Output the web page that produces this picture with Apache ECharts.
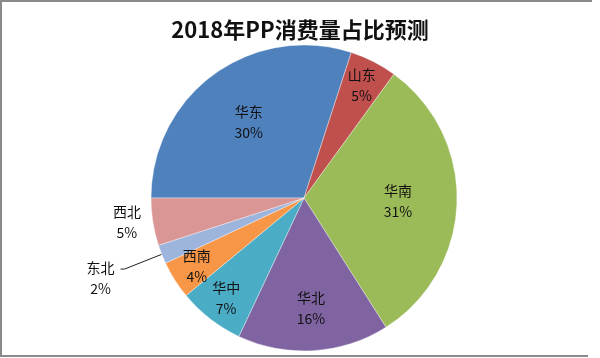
<!DOCTYPE html>
<html><head><meta charset="utf-8">
<script src="https://cdn.jsdelivr.net/npm/echarts@6/dist/echarts.min.js"></script>
<style>html,body{margin:0;padding:0;background:#fff}#c{width:600px;height:358px}</style>
</head><body><div id="c"></div>
<script>
const chartTitle = '2018年PP消费量占比预测';
const categories = ['华东','山东','华南','华北','华中','西南','东北','西北'];
const values = [30, 5, 31, 16, 7, 4, 2, 5];

// ---- styles ----
const colors = ['#4F81BD','#C0504D','#9BBB59','#8064A2','#4BACC6','#F79646','#9DB4DD','#D99694'];
const placement = {'华东':'A','华南':'A','华北':'B','山东':'C','华中':'C','西南':'C','东北':'out','西北':'out'};
const ringRadius = {A:[56,126], B:[72,142], C:[100,148]};
const FONT = '"Noto Sans CJK SC", "Noto Sans", sans-serif';
const CENTER = [304,198], R = 153, START = 180;

const chart = echarts.init(document.getElementById('c'), null, {renderer:'canvas'});

const outLabel = {
  show:true, position:'outside', formatter:'{a|{b}}\n{a|{c}%}',
  rich:{a:{width:30, align:'center', fontSize:14, lineHeight:21, color:'#111', fontFamily:FONT}}
};

const mainData = categories.map((n,i)=>{
  const item = {name:n, value:values[i], itemStyle:{color:colors[i]}};
  if (placement[n] === 'out') {
    if (n === '东北') {
      item.label = Object.assign({}, outLabel, {padding:[18,0,0,0]});
      item.labelLine = {show:true, length:40, length2:4, lineStyle:{color:'#222', width:1}};
    } else {
      item.label = outLabel;
      item.labelLine = {show:false, length:2, length2:4};
    }
  } else {
    item.label = {show:false};
    item.labelLine = {show:false};
  }
  return item;
});

const series = [{
  type:'pie', center:CENTER, radius:R, startAngle:START, clockwise:true,
  avoidLabelOverlap:false, animation:false,
  itemStyle:{borderColor:'rgba(255,255,255,0.6)', borderWidth:0.6},
  emphasis:{disabled:true},
  data: mainData
}];

Object.keys(ringRadius).forEach(g => {
  series.push({
    type:'pie', silent:true, center:CENTER, radius:ringRadius[g], startAngle:START, clockwise:true,
    avoidLabelOverlap:false, animation:false,
    itemStyle:{color:'rgba(0,0,0,0)', borderWidth:0},
    emphasis:{disabled:true},
    label:{show:true, position:'inside', formatter:'{b}\n{c}%', color:'#111', fontSize:14, lineHeight:21, fontFamily:FONT},
    labelLine:{show:false},
    data: categories.map((n,i)=>({name:n, value:values[i], label:{show:placement[n]===g}}))
  });
});

chart.setOption({
  backgroundColor:'#fff',
  animation:false,
  title:{text:chartTitle, left:'center', top:14,
    textStyle:{fontSize:22, fontWeight:'bold', color:'#111', fontFamily:FONT}},
  graphic:[
    {type:'line', silent:true, shape:{x1:0,y1:1,x2:592,y2:1}, style:{stroke:'#8a8a8a', lineWidth:2}},
    {type:'line', silent:true, shape:{x1:1,y1:0,x2:1,y2:357}, style:{stroke:'#8a8a8a', lineWidth:2}},
    {type:'line', silent:true, shape:{x1:0,y1:356,x2:588,y2:356}, style:{stroke:'#8a8a8a', lineWidth:2}}
  ],
  series: series
});
</script>
</body></html>
